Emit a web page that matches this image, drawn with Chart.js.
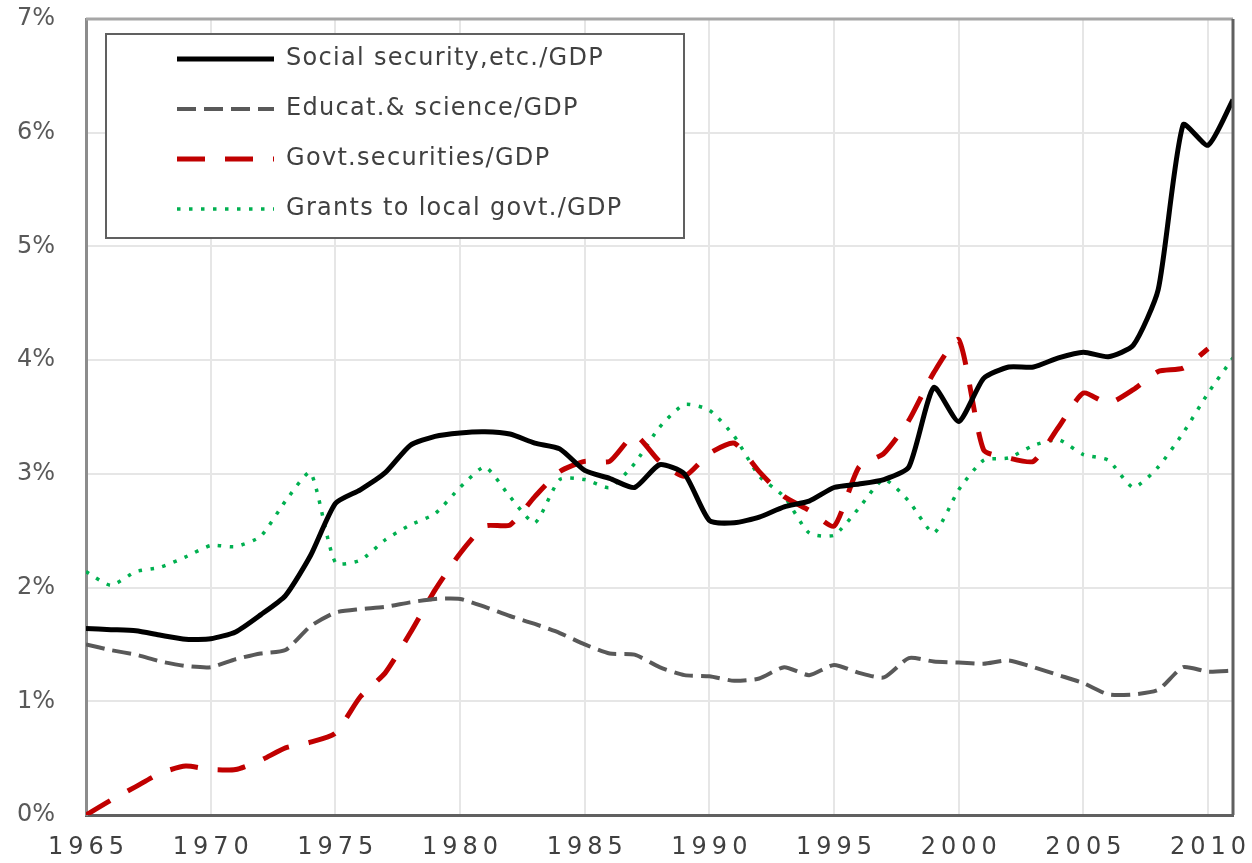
<!DOCTYPE html>
<html>
<head>
<meta charset="utf-8">
<script src="https://cdn.jsdelivr.net/npm/chart.js@4.4.1/dist/chart.umd.min.js"></script>
<style>
  body { margin: 0; background: #fff; }
</style>
</head>
<body>
<canvas id="chart" width="1252" height="863"></canvas>
<script>
var years = [1965, 1966, 1967, 1968, 1969, 1970, 1971, 1972, 1973, 1974,
  1975, 1976, 1977, 1978, 1979, 1980, 1981, 1982, 1983, 1984,
  1985, 1986, 1987, 1988, 1989, 1990, 1991, 1992, 1993, 1994,
  1995, 1996, 1997, 1998, 1999, 2000, 2001, 2002, 2003, 2004,
  2005, 2006, 2007, 2008, 2009, 2010, 2011];

// % of GDP
var socialSecurity = [1.64, 1.63, 1.62, 1.58, 1.545, 1.55, 1.61, 1.76, 1.93, 2.28,
  2.74, 2.86, 3.01, 3.25, 3.33, 3.36, 3.37, 3.35, 3.27, 3.22,
  3.03, 2.96, 2.88, 3.08, 3.0, 2.59, 2.57, 2.62, 2.71, 2.76,
  2.88, 2.91, 2.95, 3.06, 3.76, 3.46, 3.84, 3.94, 3.94, 4.02,
  4.07, 4.03, 4.13, 4.62, 6.07, 5.89, 6.29];
var education = [1.50, 1.45, 1.41, 1.35, 1.31, 1.30, 1.37, 1.42, 1.45, 1.66,
  1.78, 1.81, 1.83, 1.87, 1.90, 1.90, 1.83, 1.75, 1.68, 1.60,
  1.50, 1.42, 1.41, 1.30, 1.23, 1.22, 1.18, 1.20, 1.30, 1.23,
  1.32, 1.25, 1.21, 1.38, 1.35, 1.34, 1.33, 1.36, 1.30, 1.23,
  1.16, 1.06, 1.06, 1.10, 1.30, 1.26, 1.27];
var govtSecurities = [0.00, 0.13, 0.25, 0.37, 0.43, 0.40, 0.40, 0.48, 0.59, 0.64,
  0.72, 1.04, 1.25, 1.60, 1.98, 2.30, 2.54, 2.55, 2.80, 3.02,
  3.11, 3.11, 3.34, 3.11, 2.98, 3.18, 3.27, 3.02, 2.80, 2.68,
  2.54, 3.06, 3.18, 3.47, 3.89, 4.18, 3.21, 3.14, 3.11, 3.41,
  3.71, 3.62, 3.74, 3.90, 3.93, 4.10, null];
var grants = [2.14, 2.02, 2.14, 2.18, 2.27, 2.37, 2.36, 2.45, 2.76, 3.01,
  2.22, 2.24, 2.42, 2.55, 2.65, 2.88, 3.06, 2.80, 2.57, 2.95,
  2.95, 2.88, 3.09, 3.41, 3.61, 3.56, 3.33, 2.98, 2.80, 2.48,
  2.46, 2.70, 2.95, 2.76, 2.48, 2.86, 3.12, 3.14, 3.25, 3.30,
  3.17, 3.12, 2.88, 3.06, 3.36, 3.71, 4.02];

var seriesNames = ['Social security,etc./GDP', 'Educat.& science/GDP',
  'Govt.securities/GDP', 'Grants to local govt./GDP'];

// frame, boxed legend inside the plot and spaced-out year labels
var framePlugin = {
  id: 'frame',
  afterLayout: function(chart) {
    var ca = chart.chartArea;
    var lg = chart.legend;
    lg.left = ca.left + 65;
    lg.right = ca.left + 600;
    lg.top = ca.top + 2;
    lg.bottom = ca.bottom;
    if (!lg._boxed) {
      var origDraw = lg.draw;
      lg.draw = function(area) {
        var c = this.ctx;
        var a = chart.chartArea;
        c.save();
        c.fillStyle = '#ffffff';
        c.fillRect(a.left + 20, a.top + 15, 578, 204);
        c.strokeStyle = '#606060';
        c.lineWidth = 2;
        c.strokeRect(a.left + 20, a.top + 15, 578, 204);
        c.letterSpacing = '1.3px';
        origDraw.call(this, area);
        c.restore();
      };
      lg._boxed = true;
    }
    var xs = chart.scales.x;
    if (!xs._spaced) {
      var origLabels = xs.drawLabels;
      xs.drawLabels = function(area) {
        var c = this.ctx;
        c.save();
        c.letterSpacing = '5px';
        c.translate(2.5, 0);
        origLabels.call(this, area);
        c.restore();
      };
      xs._spaced = true;
    }
  },
  afterDraw: function(chart) {
    var ca = chart.chartArea;
    var c = chart.ctx;
    c.save();
    c.lineWidth = 3;
    c.strokeStyle = '#a6a6a6';
    c.beginPath();
    c.moveTo(ca.left, ca.top);
    c.lineTo(ca.right, ca.top);
    c.stroke();
    c.strokeStyle = '#606060';
    c.beginPath();
    c.moveTo(ca.right, ca.top);
    c.lineTo(ca.right, ca.bottom);
    c.stroke();
    c.restore();
  }
};

var ctx = document.getElementById('chart').getContext('2d');
var myChart = new Chart(ctx, {
  type: 'line',
  data: {
    labels: years,
    datasets: [
      {
        label: seriesNames[0],
        data: socialSecurity,
        borderColor: '#000000',
        backgroundColor: '#000000',
        borderWidth: 5,
        pointRadius: 0,
        tension: 0.2
      },
      {
        label: seriesNames[1],
        data: education,
        borderColor: '#595959',
        backgroundColor: '#595959',
        borderWidth: 4,
        borderDash: [19, 8],
        pointRadius: 0,
        tension: 0.2
      },
      {
        label: seriesNames[2],
        data: govtSecurities,
        borderColor: '#c00000',
        backgroundColor: '#c00000',
        borderWidth: 5,
        borderDash: [28, 20],
        pointRadius: 0,
        tension: 0.2
      },
      {
        label: seriesNames[3],
        data: grants,
        borderColor: '#00b050',
        backgroundColor: '#00b050',
        borderWidth: 3.5,
        borderDash: [3.5, 8.5],
        pointRadius: 0,
        tension: 0.2
      }
    ]
  },
  options: {
    responsive: false,
    animation: false,
    layout: {
      autoPadding: false,
      padding: {top: 19, right: 19, left: 0, bottom: 0}
    },
    plugins: {
      tooltip: {enabled: false},
      legend: {
        position: 'chartArea',
        align: 'start',
        labels: {
          usePointStyle: true,
          pointStyle: 'line',
          pointStyleWidth: 97,
          padding: 26,
          color: '#404040',
          font: {family: 'DejaVu Sans', size: 24},
          generateLabels: function(chart) {
            var items = Chart.defaults.plugins.legend.labels.generateLabels(chart);
            items.forEach(function(item) {
              var ds = chart.data.datasets[item.datasetIndex];
              item.lineDash = ds.borderDash || [];
              item.lineWidth = ds.borderWidth;
              item.strokeStyle = ds.borderColor;
              item.lineCap = 'butt';
            });
            return items;
          }
        }
      }
    },
    scales: {
      x: {
        type: 'linear',
        min: 1965,
        max: 2011,
        afterFit: function(scale) {
          scale.height = 48;
          scale.paddingLeft = 0;
          scale.paddingRight = 0;
        },
        grid: {color: '#e6e6e6', lineWidth: 2, drawTicks: false},
        border: {color: '#606060', width: 3},
        ticks: {
          stepSize: 5,
          includeBounds: false,
          padding: 18,
          maxRotation: 0,
          color: '#404040',
          font: {family: 'DejaVu Sans', size: 24},
          callback: function(v) { return String(v); }
        }
      },
      y: {
        min: 0,
        max: 7,
        afterFit: function(scale) {
          scale.width = 86;
          scale.paddingTop = 0;
          scale.paddingBottom = 0;
        },
        grid: {color: '#e6e6e6', lineWidth: 2, drawTicks: false},
        border: {color: '#8c8c8c', width: 3},
        ticks: {
          stepSize: 1,
          padding: 31,
          color: '#595959',
          font: {family: 'DejaVu Sans', size: 24},
          callback: function(v) { return v + '%'; }
        }
      }
    }
  },
  plugins: [framePlugin]
});
</script>
</body>
</html>
